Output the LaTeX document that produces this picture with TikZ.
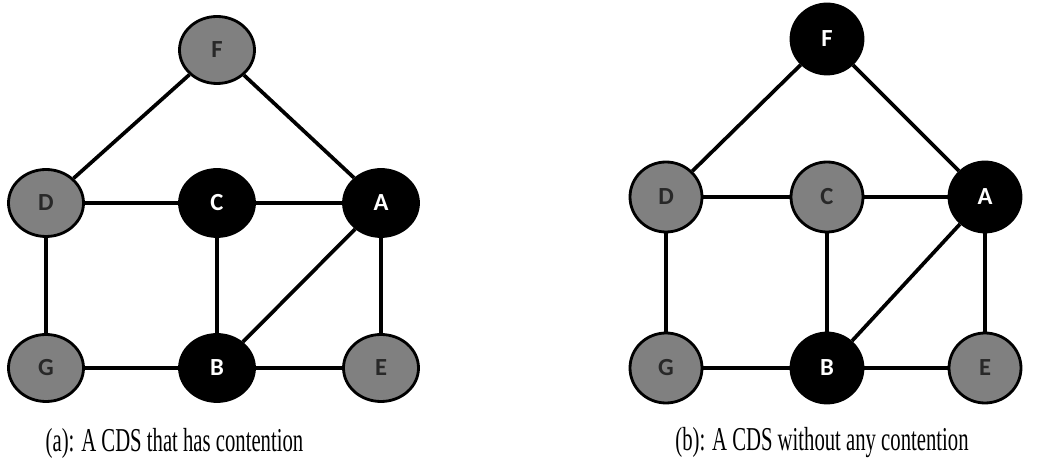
\documentclass[tikz,border=0pt]{standalone}
\usepackage{fontspec}
\setmainfont{Liberation Serif}
\newfontfamily\labelfont{Carlito}
\usetikzlibrary{arrows, shapes.geometric}

\definecolor{nodegray}{RGB}{128,128,128}
\definecolor{lettergray}{RGB}{40,40,40}

\begin{document}
\begin{tikzpicture}[-,node distance=3.3cm,
  vertex/.style={ellipse, draw=black, line width=1.6pt, minimum width=1.5cm, minimum height=1.34cm, inner sep=0pt, font=\labelfont\bfseries\fontsize{14}{14}\selectfont},
  relay/.style={vertex, fill=black, text=white},
  other/.style={vertex, fill=nodegray, text=lettergray},
  link/.style={line width=2.1pt},
  caption/.style={font=\fontsize{19}{19}\selectfont, xscale=0.62, transform shape}]

  \useasboundingbox (0,0) rectangle (21.18,-9.36);

  % (a) C and A both relay
  \node[other]   (aD)  at (0.92,-4.06)                          {D};
  \node[relay]   (aC)  [right of=aD, node distance=3.42cm]       {C};
  \node[relay]   (aA)  [right of=aC, node distance=3.28cm]       {A};
  \node[other]   (aG)  [below of=aD]                            {G};
  \node[relay]   (aB)  [below of=aC]                            {B};
  \node[other]   (aE)  [below of=aA]                            {E};
  \node[other]   (aF)  [above of=aC, node distance=3.06cm]       {F};

  \path[link]
  (aF) edge[link] (aD)
       edge[link] (aA)
  (aD) edge[link] (aC)
       edge[link] (aG)
  (aC) edge[link] (aA)
       edge[link] (aB)
  (aA) edge[link] (aB)
       edge[link] (aE)
  (aB) edge[link] (aG)
       edge[link] (aE);

  % (b) F, A, B relay
  \begin{scope}[vertex/.append style={minimum width=1.44cm, minimum height=1.4cm}]
  \node[other]   (bD)  at (13.32,-3.94)                         {D};
  \node[other]   (bC)  [right of=bD, node distance=3.22cm]       {C};
  \node[relay]   (bA)  [right of=bC, node distance=3.16cm]       {A};
  \node[other]   (bG)  [below of=bD, node distance=3.42cm]       {G};
  \node[relay]   (bB)  [below of=bC, node distance=3.42cm]       {B};
  \node[other]   (bE)  [below of=bA, node distance=3.42cm]       {E};
  \node[relay]   (bF)  [above of=bC, node distance=3.16cm]       {F};
  \end{scope}

  \path[link]
  (bF) edge[link] (bD)
       edge[link] (bA)
  (bD) edge[link] (bC)
       edge[link] (bG)
  (bC) edge[link] (bA)
       edge[link] (bB)
  (bA) edge[link] (bB)
       edge[link] (bE)
  (bB) edge[link] (bG)
       edge[link] (bE);

  \node[caption] (capa) at (3.49,-8.86)  {(a): A CDS that has contention};
  \node[caption] (capb) at (16.44,-8.86) {(b): A CDS without any contention};

\end{tikzpicture}
\end{document}
